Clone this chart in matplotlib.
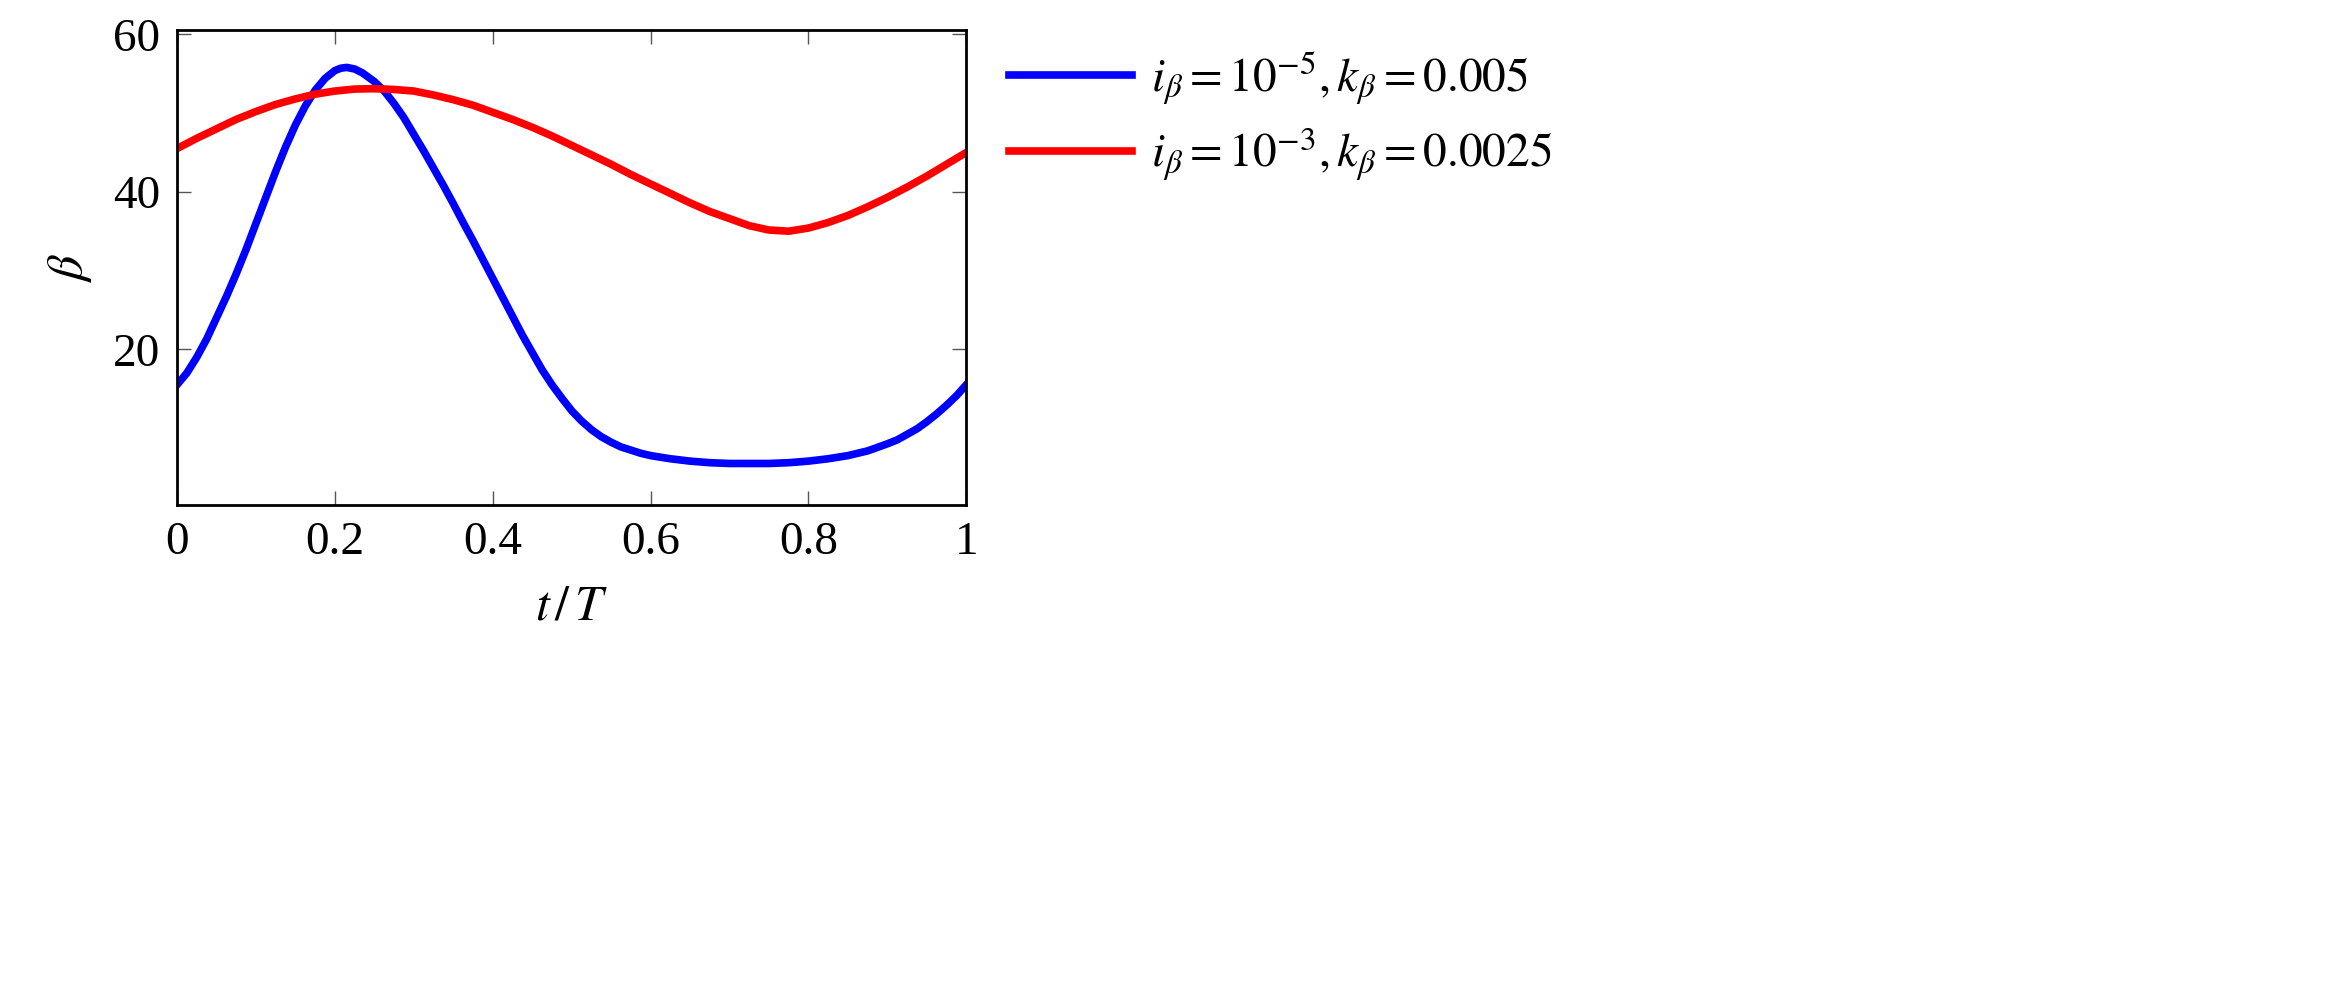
import matplotlib
matplotlib.use("Agg")
import matplotlib.pyplot as plt

plt.rcParams["font.family"] = "Liberation Serif"
plt.rcParams["mathtext.fontset"] = "stix"

# blue curve: i_beta = 1e-5, k_beta = 0.005
t_blue = [0, 0.0125, 0.025, 0.0375, 0.05, 0.0625, 0.075, 0.0875, 0.1, 0.1125, 0.125, 0.1375, 0.15,
          0.1625, 0.175, 0.1875, 0.2, 0.2075, 0.215, 0.225, 0.235, 0.25, 0.2625, 0.275, 0.2875,
          0.3, 0.3125, 0.325, 0.3375, 0.35, 0.3625, 0.375, 0.3875, 0.4, 0.4125, 0.425, 0.4375,
          0.45, 0.4625, 0.475, 0.4875, 0.5, 0.5125, 0.525, 0.5375, 0.55, 0.5625, 0.575, 0.5875,
          0.6, 0.625, 0.65, 0.675, 0.7, 0.725, 0.75, 0.775, 0.8, 0.825, 0.85, 0.875, 0.9, 0.9125,
          0.925, 0.9375, 0.95, 0.9625, 0.975, 0.9875, 1.0]
b_blue = [15.5, 17.0, 19.0, 21.3, 24.0, 26.7, 29.6, 32.7, 36.0, 39.3, 42.6, 45.7, 48.5,
          50.9, 52.9, 54.4, 55.4, 55.7, 55.8, 55.6, 55.1, 54.0, 52.8, 51.2, 49.4,
          47.3, 45.2, 43.0, 40.8, 38.5, 36.1, 33.8, 31.4, 29.0, 26.6, 24.2, 21.8,
          19.6, 17.4, 15.5, 13.8, 12.2, 10.9, 9.8, 8.9, 8.2, 7.6, 7.2, 6.8,
          6.5, 6.1, 5.8, 5.6, 5.5, 5.5, 5.5, 5.6, 5.8, 6.1, 6.5, 7.1, 8.0, 8.5,
          9.2, 9.9, 10.8, 11.8, 12.9, 14.1, 15.5]

# red curve: i_beta = 1e-3, k_beta = 0.0025
t_red = [0, 0.025, 0.05, 0.075, 0.1, 0.125, 0.15, 0.175, 0.2, 0.225, 0.25, 0.275, 0.3, 0.325,
         0.35, 0.375, 0.4, 0.425, 0.45, 0.475, 0.5, 0.525, 0.55, 0.575, 0.6, 0.625, 0.65, 0.675,
         0.7, 0.725, 0.75, 0.775, 0.8, 0.825, 0.85, 0.875, 0.9, 0.925, 0.95, 0.975, 1.0]
b_red = [45.5, 46.8, 48.0, 49.2, 50.2, 51.1, 51.8, 52.4, 52.8, 53.05, 53.1, 53.0, 52.8, 52.3,
         51.7, 51.0, 50.1, 49.2, 48.2, 47.1, 45.9, 44.7, 43.5, 42.2, 41.0, 39.8, 38.6, 37.5,
         36.6, 35.7, 35.15, 35.0, 35.4, 36.1, 37.0, 38.1, 39.3, 40.6, 42.0, 43.5, 45.0]

fig = plt.figure(figsize=(23.42, 9.81), dpi=100)
ax = fig.add_axes([0.0756, 0.485, 0.337, 0.484])
ax.plot(t_blue, b_blue, color="#0000ff", lw=5.5, label=r"$i_\beta = 10^{-5}, k_\beta = 0.005$")
ax.plot(t_red, b_red, color="#ff0000", lw=5.5, label=r"$i_\beta = 10^{-3}, k_\beta = 0.0025$")
ax.set_xlim(0, 1)
ax.set_ylim(0.2, 60.5)
ax.set_xticks([0, 0.2, 0.4, 0.6, 0.8, 1])
ax.set_xticklabels(["0", "0.2", "0.4", "0.6", "0.8", "1"])
ax.set_yticks([20, 40, 60])
ax.tick_params(direction="in", top=True, right=True, length=10, width=1, labelsize=34, pad=12,
               color="#555555")
for s in ax.spines.values():
    s.set_linewidth(2)
ax.set_xlabel(r"$t\,/\,T$", fontsize=36, labelpad=14)
ax.set_ylabel(r"$\beta$", fontsize=36, labelpad=14)
ax.legend(loc="upper left", bbox_to_anchor=(1.03, 1.0), frameon=False, fontsize=34,
          handlelength=2.6, handletextpad=0.4, labelspacing=0.4, borderaxespad=0)
fig.savefig("out.png", dpi=100)
